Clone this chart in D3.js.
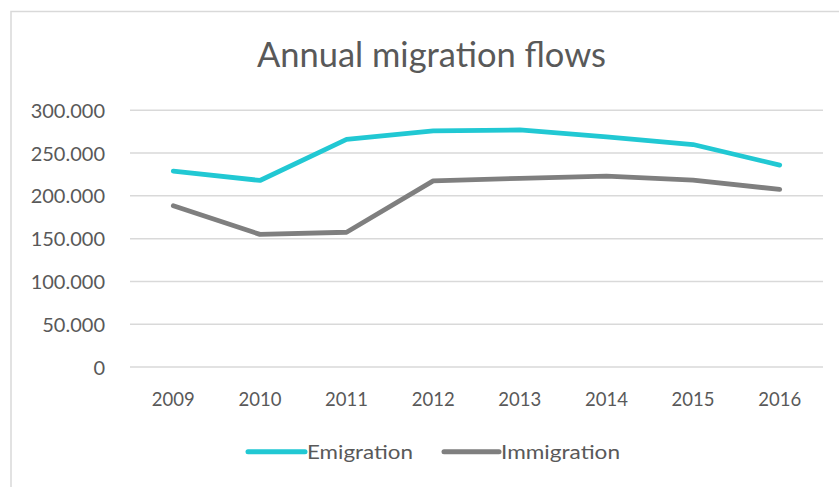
<!DOCTYPE html>
<html>
<head>
<meta charset="utf-8">
<script src="https://cdn.jsdelivr.net/npm/d3@7"></script>
<style>
  html, body { margin: 0; padding: 0; background: #ffffff; }
  svg { display: block; }
  text { font-family: Lato, "Open Sans", "Noto Sans", sans-serif; fill: #595959; }
</style>
</head>
<body>
<svg id="chart" width="839" height="487"></svg>
<script>
// Years on the category axis
const years = ["2009", "2010", "2011", "2012", "2013", "2014", "2015", "2016"];
// Annual flows (persons)
const emigration  = [229000, 218000, 266000, 276000, 277000, 269000, 260000, 236000];
const immigration = [188500, 155000, 157500, 217500, 220500, 223000, 218500, 207500];
// Value axis ticks
const yTicks = [0, 50000, 100000, 150000, 200000, 250000, 300000];

const series = [
  { name: "Emigration",  values: emigration,  color: "#21c8d3" },
  { name: "Immigration", values: immigration, color: "#7f7f7f" }
];

const W = 839, H = 487;
const plot = { left: 130, right: 823, top: 110.3, bottom: 367 };

const svg = d3.select("#chart");

// Chart frame (light border running off the right/bottom edges)
svg.append("rect")
  .attr("x", 11).attr("y", 11.5)
  .attr("width", W + 20).attr("height", H + 20)
  .attr("fill", "none").attr("stroke", "#d9d9d9").attr("stroke-width", 1.5);

const x = d3.scaleBand().domain(years).range([plot.left, plot.right]);
const y = d3.scaleLinear().domain([0, 300000]).range([plot.bottom, plot.top]);

const fmt = v => v === 0 ? "0" : d3.format(",")(v).replace(/,/g, ".");

// Horizontal gridlines
svg.append("g").selectAll("line")
  .data(yTicks).join("line")
  .attr("x1", plot.left).attr("x2", plot.right)
  .attr("y1", d => y(d)).attr("y2", d => y(d))
  .attr("stroke", "#d9d9d9").attr("stroke-width", 1.5);

// Value axis labels
const yAxis = d3.axisLeft(y).tickValues(yTicks).tickFormat(fmt).tickSize(0).tickPadding(0);
const gy = svg.append("g").attr("transform", "translate(105,0)").call(yAxis);
gy.select(".domain").remove();
gy.selectAll("text")
  .attr("font-size", 20).attr("fill", "#595959")
  .attr("dy", "0.35em");

// Category axis labels
const xAxis = d3.axisBottom(x).tickSize(0).tickPadding(0);
const gx = svg.append("g").attr("transform", `translate(0,${plot.bottom})`).call(xAxis);
gx.select(".domain").remove();
gx.selectAll("text")
  .attr("font-size", 18.5).attr("fill", "#595959")
  .attr("y", 38.5).attr("dy", 0);

// Lines
const line = d3.line()
  .x((d, i) => x(years[i]) + x.bandwidth() / 2)
  .y(d => y(d));

svg.append("g").selectAll("path")
  .data(series).join("path")
  .attr("d", d => line(d.values))
  .attr("fill", "none")
  .attr("stroke", d => d.color)
  .attr("stroke-width", 4.8)
  .attr("stroke-linecap", "round")
  .attr("stroke-linejoin", "round");

// Title
svg.append("text")
  .attr("x", 431.5).attr("y", 66.7)
  .attr("text-anchor", "middle")
  .attr("font-size", 34)
  .attr("textLength", 349).attr("lengthAdjust", "spacingAndGlyphs")
  .text("Annual migration flows");

// Legend
const legend = [
  { s: series[0], x1: 248, x2: 305, tx: 307, tw: 106 },
  { s: series[1], x1: 444, x2: 499, tx: 501, tw: 119 }
];
const lg = svg.append("g");
legend.forEach(l => {
  lg.append("line")
    .attr("x1", l.x1).attr("x2", l.x2)
    .attr("y1", 451.7).attr("y2", 451.7)
    .attr("stroke", l.s.color).attr("stroke-width", 5)
    .attr("stroke-linecap", "round");
  lg.append("text")
    .attr("x", l.tx).attr("y", 459)
    .attr("font-size", 19.5)
    .attr("textLength", l.tw).attr("lengthAdjust", "spacingAndGlyphs")
    .text(l.s.name);
});
</script>
</body>
</html>
